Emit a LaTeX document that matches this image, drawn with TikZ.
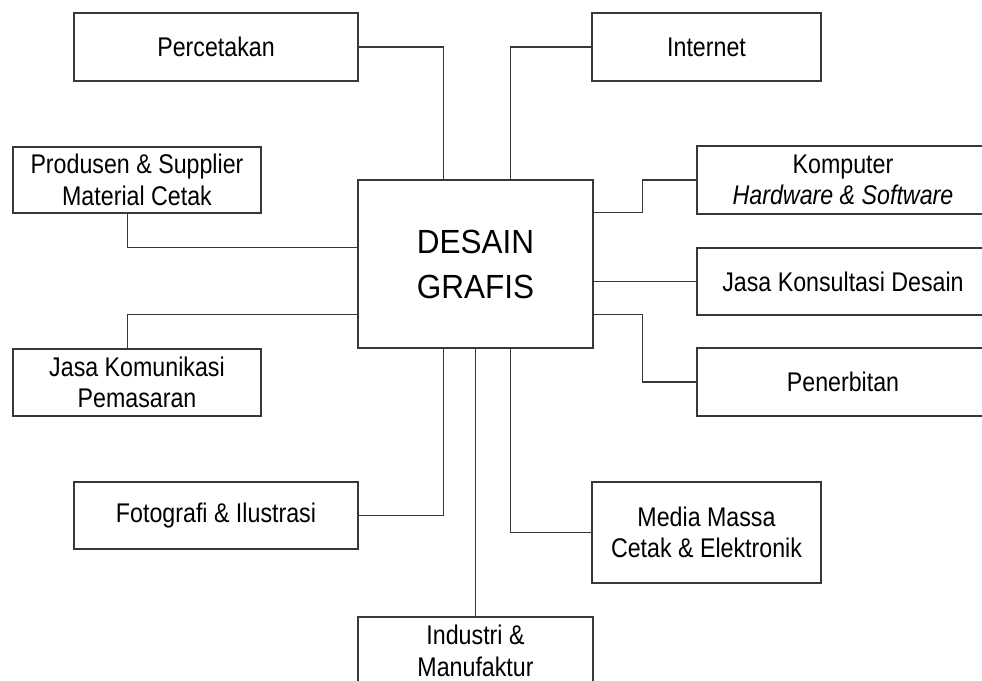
\documentclass[tikz,border=0pt]{standalone}
\usepackage{fontspec}
\setmainfont{Liberation Sans}
\newfontfamily\smallcond[FakeStretch=0.86]{Liberation Sans}
\newfontfamily\bigcond[FakeStretch=0.94]{Liberation Sans}
\begin{document}
\begin{tikzpicture}[x=1pt,y=-1pt,
  box/.style={draw=black!78, line width=1.4pt, fill=white, inner sep=0pt, align=center,
    font=\smallcond\fontsize{27}{31.5}\selectfont},
  conn/.style={draw=black!78, line width=1.4pt}]
\useasboundingbox (0,0) rectangle (982,680);
\clip (0,0) rectangle (982,680);
\node[box, minimum width=235pt, minimum height=168pt, font=\bigcond\fontsize{33.5}{45}\selectfont] (c) at (475.5,264) {DESAIN\\GRAFIS};
\node[box, minimum width=284pt, minimum height=68pt] (perc) at (216,47) {Percetakan};
\node[box, minimum width=229pt, minimum height=68pt] (inet) at (706.5,47) {Internet};
\node[box, minimum width=292pt, minimum height=68pt] (komp) at (843,180) {Komputer\\\textit{Hardware \& Software}};
\node[box, minimum width=292pt, minimum height=67pt] (jkd) at (843,281.5) {Jasa Konsultasi Desain};
\node[box, minimum width=292pt, minimum height=68pt] (pen) at (843,382) {Penerbitan};
\node[box, minimum width=248pt, minimum height=66pt] (prod) at (137,180) {Produsen \& Supplier\\Material Cetak};
\node[box, minimum width=248pt, minimum height=67pt] (jkm) at (137,382.5) {Jasa Komunikasi\\Pemasaran};
\node[box, minimum width=284pt, minimum height=67pt] (foto) at (216,515.5) {Fotografi \& Ilustrasi};
\node[box, minimum width=229pt, minimum height=101pt] (media) at (706.5,532.5) {Media Massa\\Cetak \& Elektronik};
\node[box, minimum width=235pt, minimum height=68pt] (ind) at (475.5,651) {Industri \&\\Manufaktur};
\draw[conn] (perc.east) -| ([xshift=86pt]c.north west);
\draw[conn] (inet.west) -| ([xshift=153pt]c.north west);
\draw[conn] ([yshift=-33pt]c.north east) -- ++(49,0) |- (komp.west);
\draw[conn] (jkd.west -| c.east) -- (jkd.west);
\draw[conn] ([yshift=-135pt]c.north east) -- ++(49,0) |- (pen.west);
\draw[conn] ([xshift=115pt]prod.south west) |- ([yshift=-68pt]c.north west);
\draw[conn] ([xshift=115pt]jkm.north west) |- ([yshift=-135pt]c.north west);
\draw[conn] (foto.east) -| ([xshift=86pt]c.south west);
\draw[conn] (media.west) -| ([xshift=153pt]c.south west);
\draw[conn] (c.south) -- (ind.north);
\end{tikzpicture}
\end{document}
